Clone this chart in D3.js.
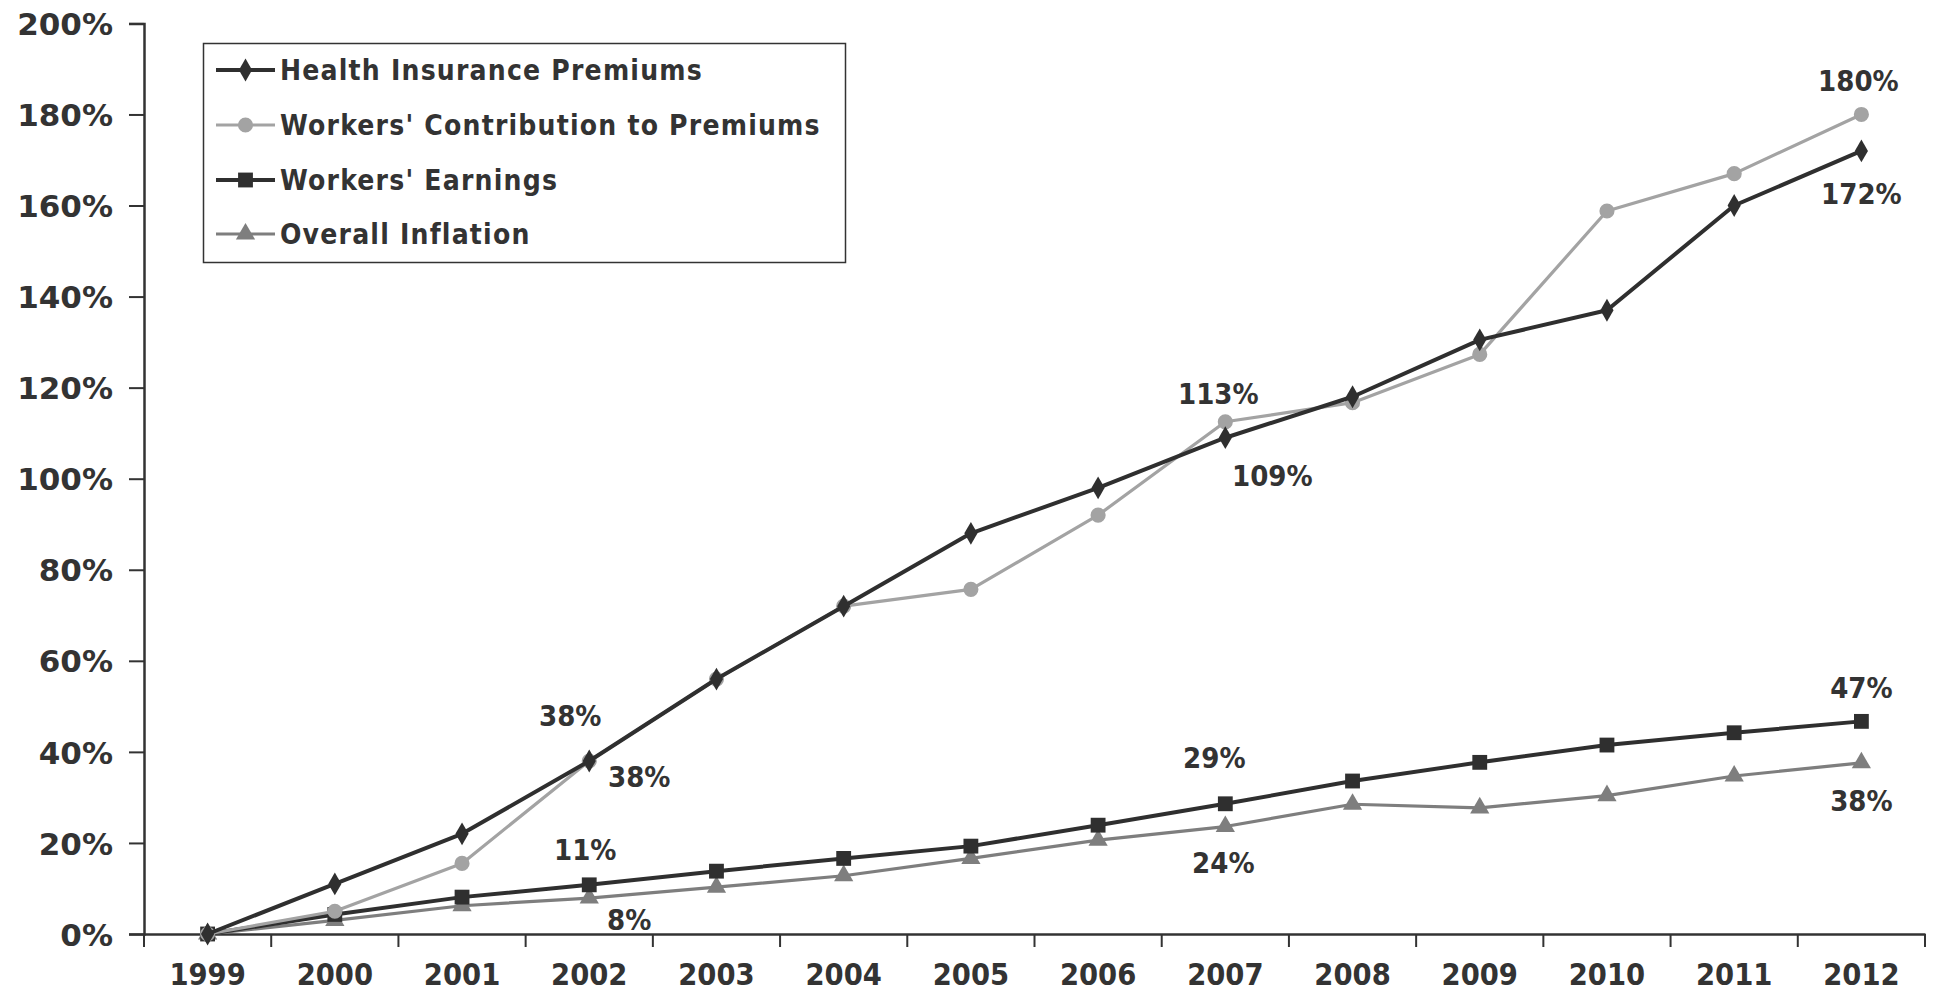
<!DOCTYPE html>
<html>
<head>
<meta charset="utf-8">
<script src="https://cdn.jsdelivr.net/npm/d3@7"></script>
<style>
  html, body { margin: 0; padding: 0; background: #ffffff; }
  svg { display: block; }
</style>
</head>
<body>
<svg id="chart" width="1935" height="993"></svg>
<script>
// ---------- DATA ----------
const years = ["1999","2000","2001","2002","2003","2004","2005","2006","2007","2008","2009","2010","2011","2012"];
const healthPremiums = [0, 11, 22, 38, 56, 72, 88, 98, 109, 118, 130.5, 137, 160, 172];
const workerContribution = [0, 5, 15.5, 38, 56, 72, 75.7, 92, 112.5, 116.7, 127.3, 158.8, 167, 180];
const workerEarnings = [0, 4.3, 8.1, 10.8, 13.8, 16.6, 19.3, 23.9, 28.6, 33.6, 37.7, 41.5, 44.2, 46.7];
const overallInflation = [0, 3, 6.2, 7.9, 10.3, 12.8, 16.6, 20.6, 23.6, 28.5, 27.7, 30.4, 34.7, 37.6];
const seriesNames = ["Health Insurance Premiums", "Workers' Contribution to Premiums", "Workers' Earnings", "Overall Inflation"];
const yTicks = [0, 20, 40, 60, 80, 100, 120, 140, 160, 180, 200];
// data labels: series index, year, text
const labelSeries = [0, 1, 0, 1, 0, 1, 2, 3, 2, 3, 2, 3];
const labelYears = ["2002", "2002", "2007", "2007", "2012", "2012", "2002", "2002", "2007", "2007", "2012", "2012"];
const labelTexts = ["38%", "38%", "109%", "113%", "172%", "180%", "11%", "8%", "29%", "24%", "47%", "38%"];

// ---------- STYLE / LAYOUT ----------
const seriesValues = [healthPremiums, workerContribution, workerEarnings, overallInflation];
const colors = ["#2f2f2f", "#a3a3a3", "#2f2f2f", "#7e7e7e"];
const widths = [4, 3.2, 4, 3.2];
const symbols = [d3.symbolDiamond, d3.symbolCircle, d3.symbolSquare, d3.symbolTriangle];
const symSizes = [150, 180, 220, 160];
// label offsets (dx, dy) relative to the point, pixels
const labelOffsets = [[-19, -45], [+50, +16], [+47, +38], [-7, -28], [0, +43], [-3, -34],
                      [-4, -35], [+40, +22], [-11, -46], [-2, +36], [0, -34], [0, +38]];

const svg = d3.select("#chart");
const mLeft = 144, mRight = 1925, mTop = 23.4, mBottom = 934;

const x = d3.scaleBand().domain(years).range([mLeft, mRight]).padding(0);
const y = d3.scaleLinear().domain([0, 200]).range([mBottom, mTop]);
const cx = d => x(d) + x.bandwidth() / 2;

const axisColor = "#333333";
const textColor = "#333333";
const condensed = "'DejaVu Sans Condensed', 'DejaVu Sans', sans-serif";

// Y axis
const yAxis = d3.axisLeft(y).tickValues(yTicks).tickFormat(d => d + "%").tickSize(15).tickPadding(16);
const gy = svg.append("g").attr("transform", `translate(${mLeft},0)`).call(yAxis);
gy.select(".domain").attr("stroke", axisColor).attr("stroke-width", 2.5);
gy.selectAll(".tick line").attr("stroke", axisColor).attr("stroke-width", 2);
gy.selectAll(".tick text")
  .attr("fill", textColor)
  .style("font-family", "'DejaVu Sans', Verdana, sans-serif")
  .style("font-weight", "bold")
  .style("font-size", "31px")
  .attr("dy", "0.36em");

// X axis
const xAxis = d3.axisBottom(x).tickSize(0).tickPadding(29);
const gx = svg.append("g").attr("transform", `translate(0,${mBottom})`).call(xAxis);
gx.select(".domain").attr("stroke", axisColor).attr("stroke-width", 2.5);
gx.selectAll(".tick text")
  .attr("fill", textColor)
  .style("font-family", condensed)
  .style("font-stretch", "condensed")
  .style("font-weight", "bold")
  .style("font-size", "30.5px");
// ticks between categories
const boundaries = years.map(d => x(d)).concat([x(years[years.length - 1]) + x.bandwidth()]);
svg.append("g").selectAll("line").data(boundaries).join("line")
  .attr("x1", d => d).attr("x2", d => d)
  .attr("y1", mBottom).attr("y2", mBottom + 13)
  .attr("stroke", axisColor).attr("stroke-width", 2);

// Lines (draw in order: inflation / earnings / contribution / health)
const drawOrder = [3, 2, 1, 0];
const line = d3.line().x((d, i) => cx(years[i])).y(d => y(d));
drawOrder.forEach(s => {
  svg.append("path")
    .datum(seriesValues[s])
    .attr("fill", "none")
    .attr("stroke", colors[s])
    .attr("stroke-width", widths[s])
    .attr("stroke-linejoin", "round")
    .attr("d", line);
  svg.append("g").selectAll("path").data(seriesValues[s]).join("path")
    .attr("transform", (d, i) => `translate(${cx(years[i])},${y(d)})`)
    .attr("d", d3.symbol().type(symbols[s]).size(symSizes[s]))
    .attr("fill", colors[s]);
});

// Data labels
svg.append("g").selectAll("text").data(labelTexts).join("text")
  .attr("x", (d, i) => cx(labelYears[i]) + labelOffsets[i][0])
  .attr("y", (d, i) => y(seriesValues[labelSeries[i]][years.indexOf(labelYears[i])]) + labelOffsets[i][1])
  .attr("text-anchor", "middle")
  .attr("dy", "0.36em")
  .attr("fill", textColor)
  .style("font-family", condensed)
  .style("font-stretch", "condensed")
  .style("font-weight", "bold")
  .style("font-size", "29px")
  .text(d => d);

// Legend
const lg = svg.append("g");
lg.append("rect")
  .attr("x", 203.5).attr("y", 43.5).attr("width", 642).attr("height", 219)
  .attr("fill", "#ffffff").attr("stroke", "#333333").attr("stroke-width", 1.5);
svg.append("clipPath").attr("id", "legclip").append("rect")
  .attr("x", 204).attr("y", 44).attr("width", 640).attr("height", 218);
const rowY = [70, 125, 180, 234];
seriesNames.forEach((name, s) => {
  const ry = rowY[s];
  lg.append("line").attr("x1", 216).attr("x2", 275).attr("y1", ry).attr("y2", ry)
    .attr("stroke", colors[s]).attr("stroke-width", widths[s]);
  lg.append("path").attr("transform", `translate(245.5,${ry})`)
    .attr("d", d3.symbol().type(symbols[s]).size(symSizes[s]))
    .attr("fill", colors[s]);
  lg.append("text").attr("x", 280).attr("y", ry).attr("dy", "0.36em")
    .attr("fill", textColor)
    .style("font-family", condensed)
    .style("font-stretch", "condensed")
    .style("font-weight", "bold")
    .style("font-size", "28px")
    .style("letter-spacing", "1.2px")
    .text(name);
});
</script>
</body>
</html>
